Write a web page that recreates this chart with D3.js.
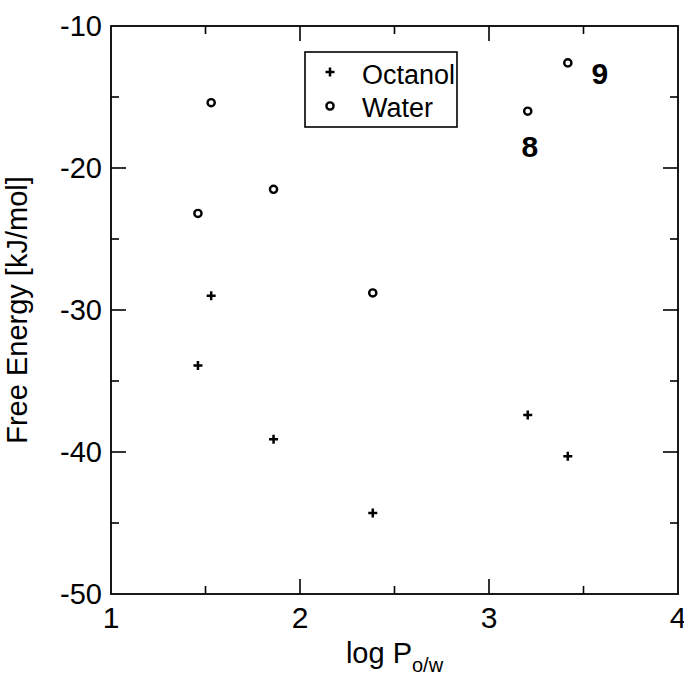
<!DOCTYPE html>
<html>
<head>
<meta charset="utf-8">
<script src="https://cdn.jsdelivr.net/npm/d3@7"></script>
<style>
  body { margin: 0; background: #fff; }
  text { font-family: "Liberation Sans", Arial, Helvetica, sans-serif; fill: #000; }
</style>
</head>
<body>
<div id="chart"></div>
<script>
// log P(o/w) for each compound
const logP = [1.46, 1.53, 1.86, 2.385, 3.205, 3.417];
// free energies [kJ/mol]
const octanol = [-33.9, -29.0, -39.1, -44.3, -37.4, -40.3];
const water = [-23.2, -15.4, -21.5, -28.8, -16.0, -12.6];
// labelled compounds (index into arrays)
const labelled = [{ i: 4, text: '8' }, { i: 5, text: '9' }];

const xTicks = [1, 2, 3, 4];
const yTicks = [-50, -40, -30, -20, -10];

const width = 684;
const height = 675;
const margin = { top: 26, right: 6, bottom: 81, left: 111 };
const innerW = width - margin.left - margin.right;
const innerH = height - margin.top - margin.bottom;

const x = d3.scaleLinear().domain([1, 4]).range([0, innerW]);
const y = d3.scaleLinear().domain([-50, -10]).range([innerH, 0]);

const svg = d3
  .select('#chart')
  .append('svg')
  .attr('width', width)
  .attr('height', height);

const g = svg
  .append('g')
  .attr('transform', `translate(${margin.left}, ${margin.top})`);

// frame
g.append('rect')
  .attr('width', innerW)
  .attr('height', innerH)
  .attr('fill', 'none')
  .attr('stroke', '#000')
  .attr('stroke-width', 1.8);

// inward ticks on all four sides
const major = 15;
const minor = 8;
const xMinor = d3.range(1.5, 4, 1);
const yMinor = d3.range(-45, -10, 10);

function tickLines(vals, len, horizontal) {
  vals.forEach(v => {
    if (horizontal) {
      g.append('line').attr('x1', x(v)).attr('x2', x(v)).attr('y1', innerH).attr('y2', innerH - len);
      g.append('line').attr('x1', x(v)).attr('x2', x(v)).attr('y1', 0).attr('y2', len);
    } else {
      g.append('line').attr('y1', y(v)).attr('y2', y(v)).attr('x1', 0).attr('x2', len);
      g.append('line').attr('y1', y(v)).attr('y2', y(v)).attr('x1', innerW).attr('x2', innerW - len);
    }
  });
}
tickLines(xTicks.slice(1, -1), major, true);
tickLines(xMinor, minor, true);
tickLines(yTicks.slice(1, -1), major, false);
tickLines(yMinor, minor, false);
g.selectAll('line').attr('stroke', '#000').attr('stroke-width', 1.6);

// tick labels
g.selectAll('.xlab')
  .data(xTicks)
  .enter()
  .append('text')
  .attr('class', 'xlab')
  .attr('x', d => x(d))
  .attr('y', innerH + 34)
  .attr('text-anchor', 'middle')
  .style('font-size', '30px')
  .text(d => d);

g.selectAll('.ylab')
  .data(yTicks)
  .enter()
  .append('text')
  .attr('class', 'ylab')
  .attr('x', -9)
  .attr('y', d => y(d))
  .attr('dy', '0.35em')
  .attr('text-anchor', 'end')
  .style('font-size', '29px')
  .text(d => d);

// axis titles
const xt = g
  .append('text')
  .attr('x', innerW / 2)
  .attr('y', innerH + 69)
  .attr('text-anchor', 'middle')
  .style('font-size', '29px');
xt.append('tspan').text('log P');
xt.append('tspan').attr('dy', 9).style('font-size', '20px').text('o/w');

g.append('text')
  .attr('transform', `translate(${-84}, ${innerH / 2}) rotate(-90)`)
  .attr('text-anchor', 'middle')
  .style('font-size', '29px')
  .text('Free Energy [kJ/mol]');

// symbols
function drawPlus(sel) {
  sel.append('path')
    .attr('d', 'M-4.5,0H4.5M0,-4.5V4.5')
    .attr('stroke', '#000')
    .attr('stroke-width', 2.5)
    .attr('fill', 'none');
}
function drawCircle(sel) {
  sel.append('circle')
    .attr('r', 3.6)
    .attr('fill', 'none')
    .attr('stroke', '#000')
    .attr('stroke-width', 2.4);
}

octanol.forEach((v, i) => {
  g.append('g').attr('transform', `translate(${x(logP[i])}, ${y(v)})`).call(drawPlus);
});
water.forEach((v, i) => {
  g.append('g').attr('transform', `translate(${x(logP[i])}, ${y(v)})`).call(drawCircle);
});

// compound labels
g.selectAll('.num')
  .data(labelled)
  .enter()
  .append('text')
  .attr('class', 'num')
  .attr('x', d => x(logP[d.i]) + (d.text === '9' ? 32 : 2))
  .attr('y', d => y(water[d.i]) + (d.text === '9' ? 21 : 46))
  .attr('text-anchor', 'middle')
  .style('font-size', '30px')
  .style('font-weight', 'bold')
  .text(d => d.text);

// legend
const legend = g.append('g').attr('transform', `translate(${305 - margin.left}, ${52 - margin.top})`);
legend.append('rect')
  .attr('width', 152)
  .attr('height', 75)
  .attr('fill', '#fff')
  .attr('stroke', '#000')
  .attr('stroke-width', 1.6);
legend.append('g').attr('transform', 'translate(25, 20)').call(drawPlus);
legend.append('g').attr('transform', 'translate(25, 54)').call(drawCircle);
legend.append('text').attr('x', 57).attr('y', 32).style('font-size', '27px').text('Octanol');
legend.append('text').attr('x', 57).attr('y', 65).style('font-size', '27px').text('Water');
</script>
</body>
</html>
